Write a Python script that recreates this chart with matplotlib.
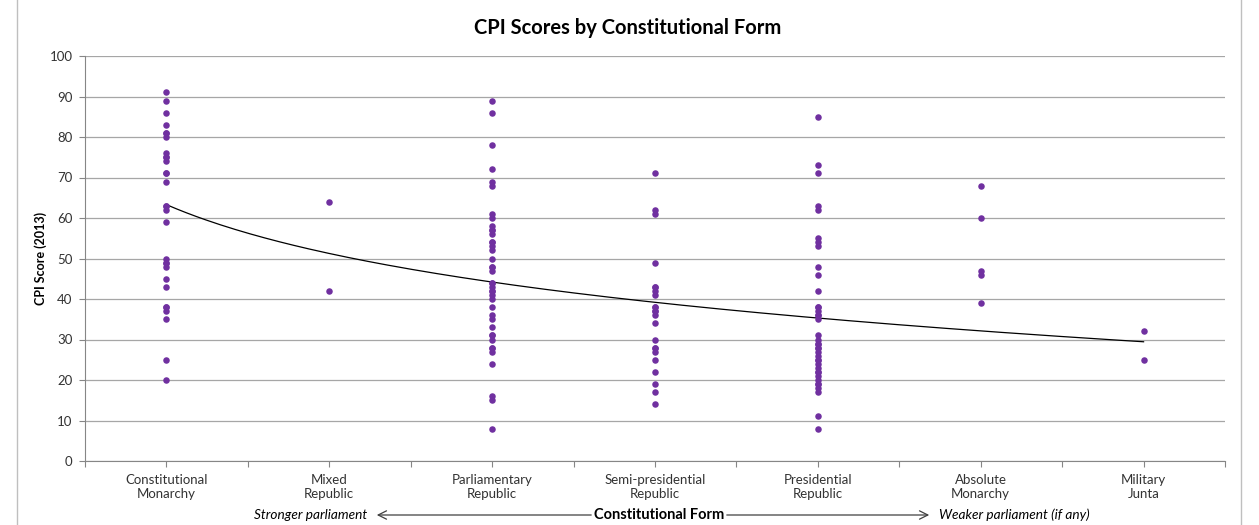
import numpy as np
import matplotlib.pyplot as plt
from matplotlib.patches import Rectangle

plt.rcParams['font.family'] = ['Lato', 'DejaVu Sans']

categories = ['Constitutional\nMonarchy', 'Mixed\nRepublic', 'Parliamentary\nRepublic',
              'Semi-presidential\nRepublic', 'Presidential\nRepublic', 'Absolute\nMonarchy',
              'Military\nJunta']

# CPI scores (2013), one list per constitutional form
const_monarchy = [91, 89, 86, 83, 81, 81, 80, 76, 75, 75, 74, 71, 71, 69, 63, 63, 62, 59,
                  50, 49, 49, 48, 45, 43, 38, 38, 37, 35, 25, 20]
mixed_republic = [64, 42]
parl_republic = [89, 86, 78, 72, 69, 68, 61, 60, 58, 57, 57, 56, 54, 54, 53, 52, 50,
                 48, 48, 47, 44, 44, 43, 42, 42, 41, 40, 38, 36, 35, 33, 31, 31, 30,
                 28, 28, 27, 24, 16, 15, 8]
semi_pres = [71, 62, 61, 49, 43, 43, 42, 41, 38, 38, 37, 37, 36, 34, 30, 28, 28, 27,
             25, 22, 19, 17, 14]
pres_republic = [85, 73, 71, 63, 62, 55, 54, 53, 48, 46, 42, 38, 38, 37, 36, 36, 35,
                 31, 30, 29, 29, 28, 28, 27, 26, 25, 25, 24, 23, 22, 22, 21, 20, 19,
                 19, 18, 17, 11, 8]
abs_monarchy = [68, 60, 47, 46, 39]
military_junta = [32, 25]

# logarithmic trendline as drawn in the chart: y = a + b*ln(x)
trend_a = 63.3
trend_b = -17.4

groups = [const_monarchy, mixed_republic, parl_republic, semi_pres,
          pres_republic, abs_monarchy, military_junta]

xs = np.concatenate([np.full(len(g), i + 1) for i, g in enumerate(groups)])
ys = np.concatenate([np.array(g, dtype=float) for g in groups])

xt = np.linspace(1, len(groups), 200)
yt = trend_a + trend_b * np.log(xt)

fig = plt.figure(figsize=(12.59, 5.25), dpi=100)
ax = fig.add_axes([85 / 1259, 64 / 525, 1140 / 1259, 405 / 525])

ax.scatter(xs, ys, s=22, color='#7030A0', zorder=3, linewidths=0)
ax.plot(xt, yt, color='black', lw=0.9, zorder=2)

ax.set_xlim(0.5, 7.5)
ax.set_ylim(0, 100)
ax.set_yticks(np.arange(0, 101, 10))
ax.set_xticks(np.arange(0.5, 7.51, 0.5))
ax.set_xticklabels([])
ax.grid(axis='y', color='#A6A6A6', lw=0.9)
ax.set_axisbelow(True)
for s in ['top', 'right']:
    ax.spines[s].set_visible(False)
for s in ['left', 'bottom']:
    ax.spines[s].set_color('#868686')
ax.tick_params(axis='both', color='#868686', length=4, labelsize=9.5, labelcolor='#333333')
ax.tick_params(axis='y', pad=5)

for i, c in enumerate(categories):
    ax.text(i + 1, -3.3, c, ha='center', va='top', fontsize=9.5, color='#333333',
            linespacing=1.15)

ax.set_ylabel('CPI Score (2013)', fontsize=9, fontweight='bold', labelpad=2)
fig.text(628 / 1259, 1 - 28 / 525, 'CPI Scores by Constitutional Form', ha='center',
         va='center', fontsize=14.5, fontweight='bold')

# bottom annotation with arrows
yb = 1 - 515 / 525
fig.text(311 / 1259, yb, 'Stronger parliament', ha='center', va='center',
         fontsize=9.8, style='italic')
fig.text(659 / 1259, yb, 'Constitutional Form', ha='center', va='center',
         fontsize=10.5, fontweight='bold')
fig.text(939 / 1259, yb, 'Weaker parliament (if any)', ha='left', va='center',
         fontsize=9.8, style='italic')
ax.annotate('', xy=(374 / 1259, yb), xytext=(594 / 1259, yb), xycoords='figure fraction',
            arrowprops=dict(arrowstyle='->,head_length=0.6,head_width=0.3',
                            color='#404040', lw=0.9))
ax.annotate('', xy=(932 / 1259, yb), xytext=(724 / 1259, yb), xycoords='figure fraction',
            arrowprops=dict(arrowstyle='->,head_length=0.6,head_width=0.3',
                            color='#404040', lw=0.9))

fig.patches.append(Rectangle((17 / 1259, -0.01), 1224 / 1259, 1.02, transform=fig.transFigure,
                             fill=False, edgecolor='#BFBFBF', lw=1))

fig.savefig('out.png', dpi=100)
